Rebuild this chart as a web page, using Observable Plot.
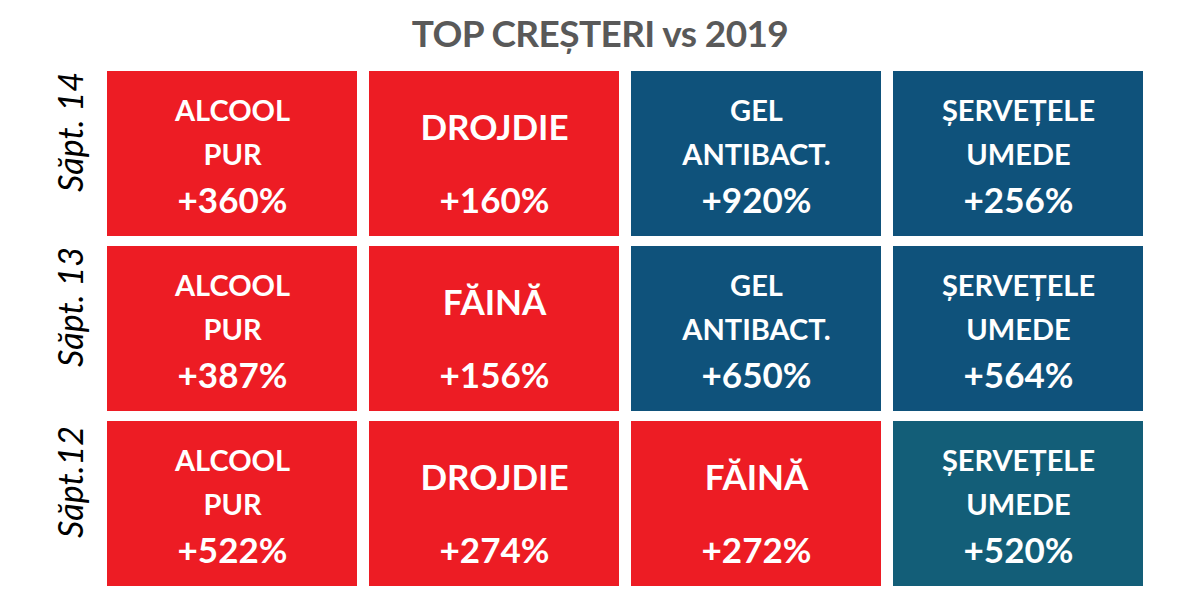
<!DOCTYPE html>
<html>
<head>
<meta charset="utf-8">
<script src="https://cdn.jsdelivr.net/npm/d3@7"></script>
<script src="https://cdn.jsdelivr.net/npm/@observablehq/plot@0.6"></script>
<style>
  html, body { margin: 0; padding: 0; background: #fff; }
  #title { height: 60px; line-height: 66px; text-align: center; font-family: "Liberation Sans Narrow", "Lato", sans-serif; font-weight: bold; font-size: 37px; letter-spacing: -0.6px; color: #595959; }
</style>
</head>
<body>
<div id="title">TOP CREȘTERI vs 2019</div>
<div id="chart"></div>
<script>
const weeks = ["Săpt. 14", "Săpt. 13", "Săpt.12"];

const products14 = ["ALCOOL\nPUR", "DROJDIE", "GEL\nANTIBACT.", "ȘERVEȚELE\nUMEDE"];
const growth14 = [360, 160, 920, 256];
const group14 = ["Alimentar", "Alimentar", "Igienă", "Igienă"];

const products13 = ["ALCOOL\nPUR", "FĂINĂ", "GEL\nANTIBACT.", "ȘERVEȚELE\nUMEDE"];
const growth13 = [387, 156, 650, 564];
const group13 = ["Alimentar", "Alimentar", "Igienă", "Igienă"];

const products12 = ["ALCOOL\nPUR", "DROJDIE", "FĂINĂ", "ȘERVEȚELE\nUMEDE"];
const growth12 = [522, 274, 272, 520];
const group12 = ["Alimentar", "Alimentar", "Alimentar", "Igienă 12"];

const groups = ["Alimentar", "Igienă", "Igienă 12"];
const groupColors = ["#ED1C24", "#0F527B", "#135E78"];

const rows = [
  [weeks[0], products14, growth14, group14],
  [weeks[1], products13, growth13, group13],
  [weeks[2], products12, growth12, group12]
];
const data = rows.flatMap(([week, prods, growth, grp]) =>
  prods.map((p, i) => ({week, col: i, product: p, growth: growth[i], group: grp[i]}))
);
const twoLine = data.filter(d => d.product.includes("\n"));
const oneLine = data.filter(d => !d.product.includes("\n"));

const chart = Plot.plot({
  width: 1200,
  height: 549,
  marginTop: 6,
  marginBottom: 18,
  marginLeft: 100,
  marginRight: 50,
  x: {type: "band", domain: [0, 1, 2, 3], padding: 0, axis: null},
  y: {type: "band", domain: weeks, padding: 0, axis: null},
  color: {domain: groups, range: groupColors},
  marks: [
    Plot.cell(data, {x: "col", y: "week", fill: "group", inset: 5, insetLeft: 6, insetRight: 6}),
    Plot.text(twoLine, {
      x: "col", y: "week", text: "product", fill: "white",
      fontFamily: "Lato, sans-serif", fontWeight: "bold", fontSize: 29,
      lineAnchor: "middle", lineHeight: 1.52, dy: -25
    }),
    Plot.text(oneLine, {
      x: "col", y: "week", text: "product", fill: "white",
      fontFamily: "Lato, sans-serif", fontWeight: "bold", fontSize: 35,
      lineAnchor: "middle", dy: -25
    }),
    Plot.text(data, {
      x: "col", y: "week", text: d => "+" + d.growth + "%", fill: "white",
      fontFamily: "Lato, sans-serif", fontWeight: "bold", fontSize: 35, dy: 48
    }),
    Plot.text(weeks, {
      y: d => d, text: d => d, frameAnchor: "left", textAnchor: "middle", dx: -28, dy: -22, rotate: -90,
      fill: "black", fontFamily: "Lato, sans-serif", fontStyle: "italic", fontSize: 34
    })
  ]
});
document.getElementById("chart").appendChild(chart);
</script>
</body>
</html>
